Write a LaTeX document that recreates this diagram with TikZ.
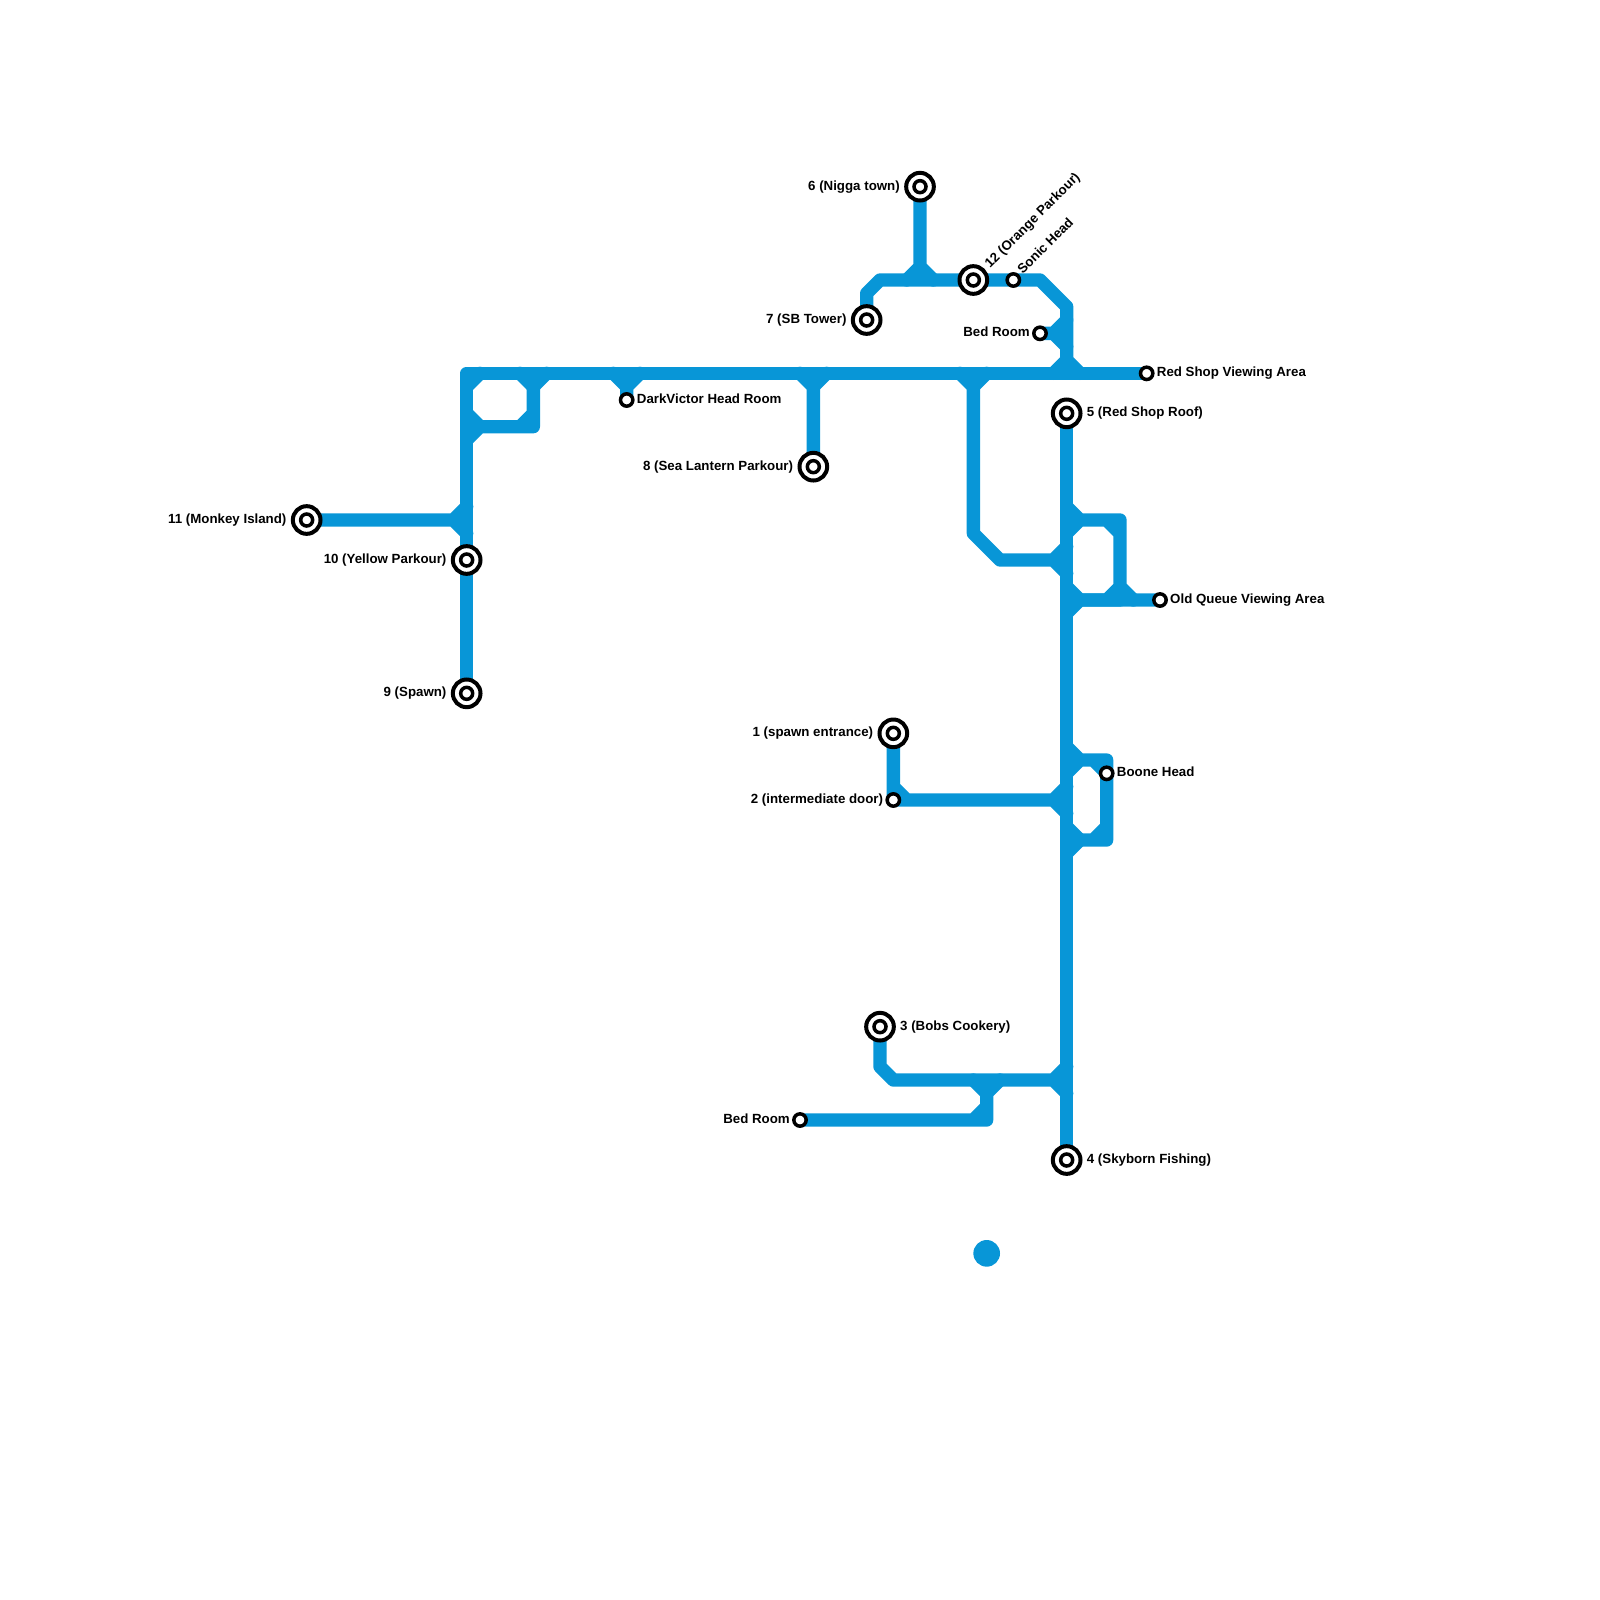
\documentclass[tikz,border=0pt]{standalone}
\usepackage{fontspec}
\setmainfont{Liberation Sans}
\usetikzlibrary{calc,backgrounds}
\definecolor{metro}{HTML}{0896D7}
\tikzset{
  x=0.4cm,y=-0.4cm,
  track/.style={draw=metro,line width=0.4cm,line join=round,line cap=round},
  hub/.style={circle,draw=black,fill=white,line width=0.12cm,inner sep=0pt,outer sep=0pt,minimum size=0.83cm,
    path picture={\draw[black,line width=0.105cm] (path picture bounding box.center) circle (0.18cm);}},
  halt/.style={circle,draw=black,fill=white,line width=0.105cm,inner sep=0pt,outer sep=0pt,minimum size=0.37cm},
  blob/.style={circle,fill=metro,inner sep=0pt,outer sep=0pt,minimum size=0.8cm},
  lab/.style={inner sep=0pt,font=\fontsize{11.35pt}{14pt}\selectfont\bfseries},
  labL/.style={lab,anchor=base east},
  labR/.style={lab,anchor=base west},
  labA/.style={lab,anchor=base west,rotate=45},
}
\begin{document}
\begin{tikzpicture}
\useasboundingbox (0,0) rectangle (120,120);
% waypoints on the map grid
\foreach \x/\y in {69/20,68/21,70/21,65/22,66/21,78/21,80/23,80/27,80/24,79/25,80/26,79/28,81/28,
  34/39,35/38,35/40,35/28,35/29,36/28,39/28,40/29,41/28,40/32,36/32,39/32,40/31,35/31,35/33,
  47/29,46/28,48/28,61/29,60/28,62/28,72/28,73/29,74/28,73/40,75/42,79/42,80/41,80/43,
  80/38,81/39,80/40,84/39,83/39,84/40,84/44,83/45,85/45,81/45,84/45,80/44,80/46,
  80/56,81/57,80/58,83/57,83/63,81/63,82/57,83/62,82/63,80/62,80/64,
  67/59,68/60,79/60,80/59,80/61,66/80,67/81,79/81,80/80,80/82,73/81,74/82,75/81,74/84,74/83,73/84}
  {\coordinate (p\x-\y) at (\x,\y);}
% stations
\node[hub] (s1) at (67,55) {};
\node[halt] (s2) at (67,60) {};
\node[hub] (s3) at (66,77) {};
\node[hub] (s4) at (80,87) {};
\node[hub] (s5) at (80,31) {};
\node[hub] (s6) at (69,14) {};
\node[hub] (s7) at (65,24) {};
\node[hub] (s8) at (61,35) {};
\node[hub] (s9) at (35,52) {};
\node[hub] (s10) at (35,42) {};
\node[hub] (s11) at (23,39) {};
\node[hub] (s12) at (73,21) {};
\node[halt] (sonic) at (76,21) {};
\node[halt] (bedA) at (78,25) {};
\node[halt] (redshop) at (86,28) {};
\node[halt] (dark) at (47,30) {};
\node[halt] (queue) at (87,45) {};
\node[halt] (boone) at (83,58) {};
\node[halt] (bedB) at (60,84) {};
\node[blob] (dot) at (74,94) {};
% labels
\node[labL] (t1) at ($(s1)+(-1.5,0.25)$) {1 (spawn entrance)};
\node[labL] (t2) at ($(s2)+(-0.75,0.25)$) {2 (intermediate door)};
\node[labR] (t3) at ($(s3)+(1.5,0.25)$) {3 (Bobs Cookery)};
\node[labR] (t4) at ($(s4)+(1.5,0.25)$) {4 (Skyborn Fishing)};
\node[labR] (t5) at ($(s5)+(1.5,0.25)$) {5 (Red Shop Roof)};
\node[labL] (t6) at ($(s6)+(-1.5,0.25)$) {6 (Nigga town)};
\node[labL] (t7) at ($(s7)+(-1.5,0.25)$) {7 (SB Tower)};
\node[labL] (t8) at ($(s8)+(-1.5,0.25)$) {8 (Sea Lantern Parkour)};
\node[labL] (t9) at ($(s9)+(-1.5,0.25)$) {9 (Spawn)};
\node[labL] (t10) at ($(s10)+(-1.5,0.25)$) {10 (Yellow Parkour)};
\node[labL] (t11) at ($(s11)+(-1.5,0.25)$) {11 (Monkey Island)};
\node[labA] (t12) at ($(s12)+(1.25,-0.85)$) {12 (Orange Parkour)};
\node[labA] (tsonic) at ($(sonic)+(0.7,-0.4)$) {Sonic Head};
\node[labL] (tbedA) at ($(bedA)+(-0.75,0.25)$) {Bed Room};
\node[labR] (tred) at ($(redshop)+(0.75,0.25)$) {Red Shop Viewing Area};
\node[labR] (tdark) at ($(dark)+(0.75,0.25)$) {DarkVictor Head Room};
\node[labR] (tqueue) at ($(queue)+(0.75,0.25)$) {Old Queue Viewing Area};
\node[labR] (tboone) at ($(boone)+(0.75,0.25)$) {Boone Head};
\node[labL] (tbedB) at ($(bedB)+(-0.75,0.25)$) {Bed Room};
% tracks
\begin{scope}[on background layer]
\path[track] (s6.center) -- (p69-20) -- (p68-21) (p69-20) -- (p70-21);
\path[track] (s7.center) -- (p65-22) -- (p66-21) -- (s12.center) -- (sonic.center) -- (p78-21) -- (p80-23) -- (p80-27) -- (p79-28) (p80-27) -- (p81-28);
\path[track] (p80-24) -- (p79-25) -- (p80-26) (bedA.center) -- (p79-25);
\path[track] (s9.center) -- (s10.center) -- (p35-28) -- (redshop.center);
\path[track] (s11.center) -- (p34-39) -- (p35-38) (p34-39) -- (p35-40);
\path[track] (p35-29) -- (p36-28) (p39-28) -- (p40-29) -- (p41-28);
\path[track] (p40-29) -- (p40-32) -- (p36-32) (p39-32) -- (p40-31) (p35-31) -- (p36-32) -- (p35-33);
\path[track] (dark.center) -- (p47-29) -- (p46-28) (p47-29) -- (p48-28);
\path[track] (s8.center) -- (p61-29) -- (p60-28) (p61-29) -- (p62-28);
\path[track] (p72-28) -- (p73-29) -- (p74-28) (p73-29) -- (p73-40) -- (p75-42) -- (p79-42) -- (p80-41) (p79-42) -- (p80-43);
\path[track] (s5.center) -- (s4.center);
\path[track] (p80-38) -- (p81-39) -- (p80-40) (p81-39) -- (p84-39) -- (p84-45) -- (p81-45) (p83-39) -- (p84-40) (p84-44) -- (p83-45) (p84-44) -- (p85-45);
\path[track] (p80-44) -- (p81-45) -- (p80-46) (p81-45) -- (queue.center);
\path[track] (p80-56) -- (p81-57) -- (p80-58) (p81-57) -- (p83-57) -- (p83-63) -- (p81-63) (p82-57) -- (boone.center) (p83-62) -- (p82-63);
\path[track] (p80-62) -- (p81-63) -- (p80-64);
\path[track] (s1.center) -- (s2.center) -- (p79-60) -- (p80-59) (p79-60) -- (p80-61) (p67-59) -- (p68-60);
\path[track] (s3.center) -- (p66-80) -- (p67-81) -- (p79-81) -- (p80-80) (p79-81) -- (p80-82);
\path[track] (p73-81) -- (p74-82) -- (p75-81) (p74-82) -- (p74-84) -- (bedB.center) (p74-83) -- (p73-84);
\end{scope}
\end{tikzpicture}
\end{document}
